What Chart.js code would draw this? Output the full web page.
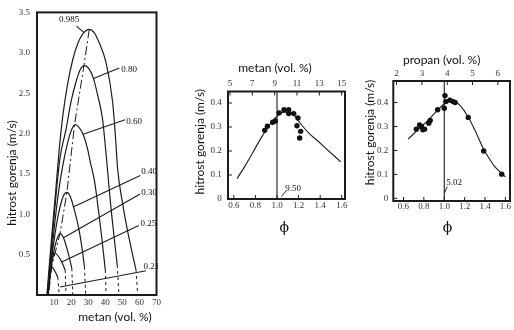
<!DOCTYPE html>
<html>
<head>
<meta charset="utf-8">
<script src="https://cdn.jsdelivr.net/npm/chart.js@4.4.1/dist/chart.umd.min.js"></script>
<style>
  body { margin: 0; background: #fff; }
  #wrap { position: relative; width: 514px; height: 330px; overflow: hidden; background: #fff; }
  .box { position: absolute; }
</style>
</head>
<body>
<div id="wrap">
  <div class="box" style="left:0;top:0;width:170px;height:330px"><canvas id="left"></canvas></div>
  <div class="box" style="left:185px;top:40px;width:170px;height:210px"><canvas id="mid"></canvas></div>
  <div class="box" style="left:358px;top:30px;width:156px;height:220px"><canvas id="right"></canvas></div>
</div>
<script>
// ---- left panel: burning velocity vs. methane, one curve per O2 fraction ----
const o2Fractions = ['0.985', '0.80', '0.60', '0.40', '0.30', '0.25', '0.21'];
const leftXTicks = [10, 20, 30, 40, 50, 60, 70];
const leftYTicks = [0.5, 1.0, 1.5, 2.0, 2.5, 3.0, 3.5];

const k985X = [5.8, 8.5, 11, 13, 15, 18, 21, 24, 27, 30.6, 33.5, 36.5, 40.4, 44.3, 46, 47.2, 50, 53, 56, 58];
const k985Y = [0, 0.7, 1.3, 1.8, 2.2, 2.62, 2.92, 3.12, 3.24, 3.29, 3.25, 3.12, 2.88, 2.39, 1.95, 1.57, 1.15, 0.8, 0.5, 0.31];
const k80X = [6, 8.5, 11, 13.5, 17, 20, 23, 25.5, 27.8, 30.5, 33.1, 35.8, 38.4, 40, 41.4, 43, 45, 47];
const k80Y = [0, 0.6, 1.2, 1.7, 2.05, 2.4, 2.65, 2.8, 2.84, 2.8, 2.68, 2.45, 2.18, 1.85, 1.53, 1.15, 0.75, 0.37];
const k60X = [6.2, 8.5, 11, 13.5, 16, 18.5, 20.5, 22.4, 24.5, 27, 29.5, 31.2, 33.7, 36, 38, 40];
const k60Y = [0, 0.5, 1.0, 1.4, 1.7, 1.93, 2.06, 2.11, 2.08, 1.99, 1.82, 1.65, 1.41, 1.05, 0.7, 0.31];
const k40X = [6.3, 8.3, 10.5, 12.5, 14.5, 16, 17.5, 19.5, 21.4, 24.3, 26.3, 27.8];
const k40Y = [0, 0.4, 0.75, 1.0, 1.17, 1.25, 1.27, 1.22, 1.09, 0.84, 0.59, 0.35];
const k30X = [6.4, 8, 9.5, 11.5, 13.5, 15.5, 18.4, 20.4];
const k30Y = [0, 0.3, 0.5, 0.68, 0.76, 0.71, 0.51, 0.33];
const k25X = [6.5, 7.5, 8.8, 10.6, 12.5, 14.5, 16.5];
const k25Y = [0, 0.22, 0.42, 0.52, 0.48, 0.41, 0.31];
const k21X = [6.6, 7.2, 7.9, 8.6, 9.5, 10.6, 12.2];
const k21Y = [0, 0.15, 0.28, 0.35, 0.33, 0.29, 0.22];
// dashed rich-side extrapolation down to zero
const tailEndX = [59, 48, 40.5, 28.5, 21, 17, 13];
// dash-dot line through the maxima
const peakLineX = [30.6, 27.5, 22, 17.5, 13.5, 10.6, 8.6, 6.8];
const peakLineY = [3.29, 2.84, 2.11, 1.27, 0.76, 0.52, 0.35, 0];

// ---- middle panel: methane / air ----
const phiTicks = [0.6, 0.8, 1.0, 1.2, 1.4, 1.6];
const speedTicks = [0, 0.1, 0.2, 0.3, 0.4];
const ch4VolTicks = [5, 7, 9, 11, 13, 15];
const ch4PhiMeas = [0.886, 0.911, 0.96, 0.985, 1.02, 1.065, 1.108, 1.108, 1.155, 1.194, 1.185, 1.219, 1.21];
const ch4SpeedMeas = [0.286, 0.303, 0.32, 0.325, 0.359, 0.372, 0.372, 0.356, 0.356, 0.338, 0.305, 0.282, 0.254];
const ch4PhiFit = [0.63, 0.7, 0.78, 0.86, 0.95, 1.0, 1.06, 1.12, 1.2, 1.244, 1.3, 1.368, 1.45, 1.59];
const ch4SpeedFit = [0.085, 0.135, 0.197, 0.26, 0.32, 0.345, 0.362, 0.362, 0.325, 0.30, 0.272, 0.246, 0.212, 0.155];

// ---- right panel: propane / air ----
const c3VolTicks = [2, 3, 4, 5, 6];
const c3PhiMeas = [0.726, 0.758, 0.775, 0.79, 0.807, 0.848, 0.862, 0.935, 1.007, 1.016, 1.0, 1.055, 1.087, 1.106, 1.235, 1.387, 1.564];
const c3SpeedMeas = [0.289, 0.306, 0.30, 0.286, 0.289, 0.314, 0.325, 0.37, 0.429, 0.404, 0.376, 0.41, 0.404, 0.40, 0.338, 0.198, 0.101];
const c3PhiFit = [0.645, 0.75, 0.85, 0.95, 1.0, 1.05, 1.1, 1.15, 1.235, 1.3, 1.387, 1.45, 1.5, 1.6];
const c3SpeedFit = [0.247, 0.29, 0.33, 0.375, 0.395, 0.408, 0.405, 0.39, 0.34, 0.285, 0.205, 0.16, 0.13, 0.09];

const ink = '#1c1c1c';
const tickFont = { family: 'Liberation Serif', size: 9 };
const sans = '12px Lato, "Open Sans", sans-serif';
const serif9 = '9px "Liberation Serif", serif';

function pts(xs, ys) { return xs.map((x, i) => ({ x: x, y: ys[i] })); }
function fixTicks(list) { return s => { s.ticks = list.map(v => ({ value: v })); }; }

// frame, inward tick marks and free text
const notesPlugin = {
  id: 'notes',
  afterDraw(chart, args, opts) {
    const ctx = chart.ctx, a = chart.chartArea;
    const sx = chart.scales.x, sy = chart.scales.y;
    ctx.save();
    ctx.strokeStyle = ink;
    ctx.lineWidth = 1;
    (opts.inTicks || []).forEach(id => {
      const s = chart.scales[id];
      s.ticks.forEach(t => {
        const p = s.getPixelForValue(t.value);
        ctx.beginPath();
        if (id === 'y') { ctx.moveTo(a.left, p); ctx.lineTo(a.left + 4, p); }
        else if (s.position === 'top') { ctx.moveTo(p, a.top); ctx.lineTo(p, a.top + 4); }
        else { ctx.moveTo(p, a.bottom); ctx.lineTo(p, a.bottom - 4); }
        ctx.stroke();
      });
    });
    ctx.lineWidth = opts.frameWidth || 2;
    ctx.strokeRect(a.left, a.top, a.width, a.height);
    (opts.items || []).forEach(it => {
      let x = it.x, y = it.y;
      if (it.data) { x = sx.getPixelForValue(x); y = sy.getPixelForValue(y); }
      ctx.save();
      ctx.translate(x, y);
      if (it.rot) ctx.rotate(it.rot);
      ctx.font = it.font;
      ctx.fillStyle = it.color || '#111';
      ctx.textAlign = it.align || 'center';
      ctx.textBaseline = 'middle';
      ctx.fillText(it.text, 0, 0);
      ctx.restore();
    });
    ctx.restore();
  }
};

function lineSet(data, extra) {
  return Object.assign({ data: data, borderColor: ink, borderWidth: 1.2, pointRadius: 0, fill: false }, extra || {});
}

function axis(min, max, list, fit, pad, fmt, extra) {
  return Object.assign({
    type: 'linear', min: min, max: max,
    afterBuildTicks: fixTicks(list),
    afterFit: fit,
    grid: { display: false, drawTicks: false },
    border: { display: false },
    ticks: { padding: pad, font: tickFont, color: '#333', callback: fmt }
  }, extra || {});
}

const baseOpts = {
  responsive: true,
  maintainAspectRatio: false,
  animation: false,
  events: [],
};

// ---------- left chart ----------
const curveXs = [k985X, k80X, k60X, k40X, k30X, k25X, k21X];
const curveYs = [k985Y, k80Y, k60Y, k40Y, k30Y, k25Y, k21Y];
const leftSets = [];
curveXs.forEach((xs, i) => {
  const ys = curveYs[i];
  leftSets.push(lineSet(pts(xs, ys), { label: o2Fractions[i], cubicInterpolationMode: 'monotone' }));
  leftSets.push(lineSet([{ x: xs[xs.length - 1], y: ys[ys.length - 1] }, { x: tailEndX[i], y: 0 }],
    { label: o2Fractions[i] + ' ext', borderDash: [3, 3], borderWidth: 1 }));
});
leftSets.push(lineSet(pts(peakLineX, peakLineY), { label: 'max', borderDash: [9, 3, 2, 3], borderWidth: 1 }));

// label anchor (text start) and leader line end on the curve, in data units
const leftLabelSpots = [
  { t: 0.985, tx: 18.8, ty: 3.41, align: 'center', l: [23.1, 3.33, 27.6, 3.25] },
  { t: 0.80, tx: 49.3, ty: 2.79, align: 'left', l: [48.2, 2.81, 33.1, 2.68] },
  { t: 0.60, tx: 52.3, ty: 2.15, align: 'left', l: [51.6, 2.17, 27.0, 1.99] },
  { t: 0.40, tx: 61, ty: 1.53, align: 'left', l: [60.5, 1.48, 21.2, 1.09] },
  { t: 0.30, tx: 61, ty: 1.27, align: 'left', l: [60.4, 1.25, 15.5, 0.71] },
  { t: 0.25, tx: 60.6, ty: 0.88, align: 'left', l: [59.6, 0.86, 14.5, 0.41] },
  { t: 0.21, tx: 62.4, ty: 0.355, align: 'left', l: [63.9, 0.30, 13.5, 0.10] }
];
const leftItems = [
  { text: 'hitrost gorenja (m/s)', x: 12, y: 173, rot: -Math.PI / 2, font: sans },
  { text: 'metan (vol. %)', x: 115, y: 317, font: sans }
];
leftLabelSpots.forEach((s, i) => {
  leftSets.push(lineSet([{ x: s.l[0], y: s.l[1] }, { x: s.l[2], y: s.l[3] }], { label: 'lead' + i, borderWidth: 1.1 }));
  leftItems.push({ text: o2Fractions[i], x: s.tx, y: s.ty, data: true, align: s.align, font: serif9 });
});

new Chart(document.getElementById('left'), {
  type: 'line',
  data: { datasets: leftSets },
  options: Object.assign({}, baseOpts, {
    layout: { padding: { top: 8, right: 13.5, left: 0, bottom: 0 } },
    scales: {
      x: axis(0, 70, leftXTicks, s => { s.height = 35; }, 2.6, v => String(v)),
      y: axis(0, 3.5, leftYTicks, s => { s.width = 37; }, 7, v => v.toFixed(1))
    },
    plugins: { legend: { display: false }, tooltip: { enabled: false }, notes: { items: leftItems, frameWidth: 2 } }
  }),
  plugins: [notesPlugin]
});

// ---------- small phi charts ----------
function phiChart(id, cfg) {
  return new Chart(document.getElementById(id), {
    type: 'line',
    data: {
      datasets: [
        lineSet(pts(cfg.measX, cfg.measY), { label: 'meritve', showLine: false, pointRadius: 2.7, pointBackgroundColor: '#111', pointBorderWidth: 0 }),
        lineSet(pts(cfg.fitX, cfg.fitY), { label: 'krivulja', borderWidth: 1.1, cubicInterpolationMode: 'monotone' }),
        lineSet([{ x: 1, y: cfg.yMin }, { x: 1, y: cfg.yMax }], { label: 'phi=1', borderWidth: 1.1 }),
        lineSet([{ x: cfg.lead[0], y: cfg.lead[1] }, { x: cfg.lead[2], y: cfg.lead[3] }], { label: 'lead', borderWidth: 0.9 })
      ]
    },
    options: Object.assign({}, baseOpts, {
      layout: { padding: { top: 0, right: cfg.padRight, left: 0, bottom: 0 } },
      scales: {
        x: axis(cfg.xMin, cfg.xMax, phiTicks, s => { s.height = cfg.botH; }, cfg.botPad, v => v.toFixed(1)),
        x2: axis(cfg.topMin, cfg.topMax, cfg.topTicks, s => { s.height = cfg.topH; }, cfg.topPad, v => String(v), { position: 'top' }),
        y: axis(cfg.yMin, cfg.yMax, speedTicks, s => { s.width = cfg.yW; }, cfg.yPad, v => v === 0 ? '0' : v.toFixed(1))
      },
      plugins: {
        legend: { display: false }, tooltip: { enabled: false },
        notes: {
          inTicks: ['x', 'x2', 'y'], frameWidth: 2,
          items: [
            { text: cfg.title, x: cfg.titlePos[0], y: cfg.titlePos[1], font: sans },
            { text: 'hitrost gorenja (m/s)', x: cfg.yTitlePos[0], y: cfg.yTitlePos[1], rot: -Math.PI / 2, font: sans },
            { text: 'ϕ', x: cfg.phiPos[0], y: cfg.phiPos[1], font: '14px "DejaVu Serif", serif' },
            { text: cfg.note, x: cfg.notePos[0], y: cfg.notePos[1], data: true, font: serif9 }
          ]
        }
      }
    }),
    plugins: [notesPlugin]
  });
}

phiChart('mid', {
  measX: ch4PhiMeas, measY: ch4SpeedMeas, fitX: ch4PhiFit, fitY: ch4SpeedFit,
  xMin: 0.546, xMax: 1.63, yMin: 0, yMax: 0.448,
  topMin: 4.82, topMax: 15.3, topTicks: ch4VolTicks,
  padRight: 10, yW: 43, yPad: 6.3, topH: 51.5, topPad: 2.8, botH: 51, botPad: 1.6,
  title: 'metan (vol. %)', titlePos: [90, 28.3], yTitlePos: [15, 101.7], phiPos: [99.3, 188],
  note: '9.50', notePos: [1.15, 0.045], lead: [1.04, 0.01, 1.09, 0.037]
});

phiChart('right', {
  measX: c3PhiMeas, measY: c3SpeedMeas, fitX: c3PhiFit, fitY: c3SpeedFit,
  xMin: 0.5, xMax: 1.645, yMin: -0.011, yMax: 0.49,
  topMin: 1.87, topMax: 6.48, topTicks: c3VolTicks,
  padRight: 2.3, yW: 35.3, yPad: 5, topH: 51, topPad: 2.3, botH: 49, botPad: 0,
  title: 'propan (vol. %)', titlePos: [83.7, 30], yTitlePos: [12, 102.5], phiPos: [89.5, 198],
  note: '5.02', notePos: [1.097, 0.064], lead: [1.0, 0.021, 1.03, 0.049]
});
</script>
</body>
</html>
